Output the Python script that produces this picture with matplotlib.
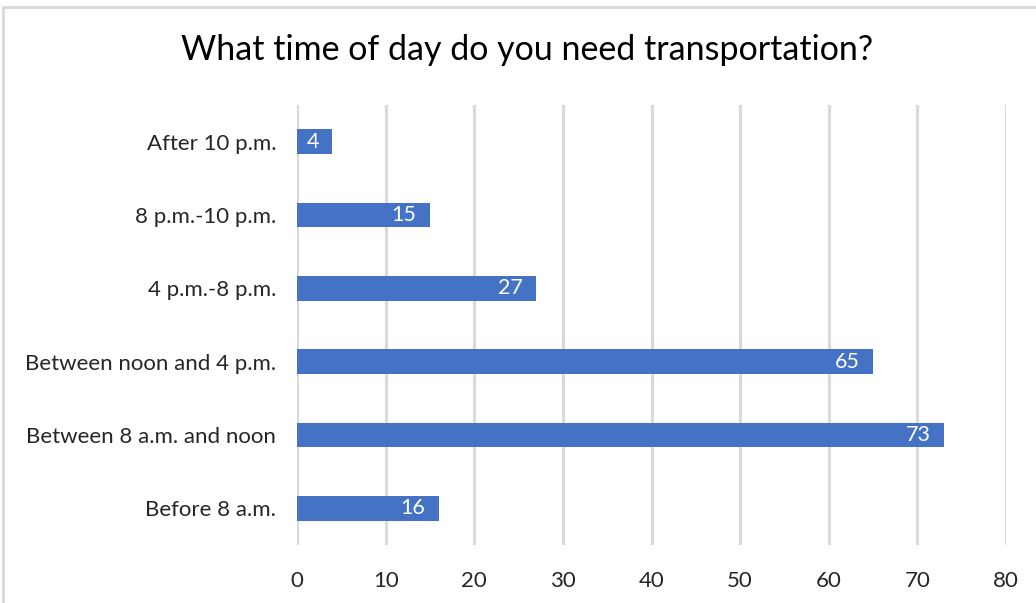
import matplotlib
matplotlib.use("Agg")
import matplotlib.pyplot as plt
from matplotlib.patches import Rectangle

categories = ["Before 8 a.m.", "Between 8 a.m. and noon", "Between noon and 4 p.m.",
              "4 p.m.-8 p.m.", "8 p.m.-10 p.m.", "After 10 p.m."]
values = [16, 73, 65, 27, 15, 4]
xticks = [0, 10, 20, 30, 40, 50, 60, 70, 80]
title = "What time of day do you need transportation?"

plt.rcParams['font.family'] = ['Lato', 'DejaVu Sans']

W, H = 1036, 603
fig = plt.figure(figsize=(W / 100, H / 100), dpi=100)
ax = fig.add_axes([297 / W, 1 - 545 / H, (1006 - 297) / W, (545 - 105) / H])

bar_color = "#4472C4"
bars = ax.barh(range(len(categories)), values, height=0.34, color=bar_color, zorder=3)
for b, v in zip(bars, values):
    ax.text(b.get_width() - 1.5, b.get_y() + b.get_height() / 2, str(v),
            ha="right", va="center", color="white", fontsize=15.5, zorder=4)

ax.set_xlim(0, 80)
ax.set_ylim(-0.5, len(categories) - 0.5)
ax.set_yticks(range(len(categories)))
ax.set_yticklabels(categories, fontsize=16, color="#262626")
ax.set_xticks(xticks)
ax.set_xticklabels([str(t) for t in xticks], fontsize=16, color="#262626")
ax.tick_params(axis="y", length=0, pad=15)
ax.tick_params(axis="x", length=0, pad=19)
ax.xaxis.grid(True, color="#D9D9D9", linewidth=2.2, zorder=0)
ax.set_axisbelow(True)
for s in ax.spines.values():
    s.set_visible(False)

fig.text(527 / W, 1 - 50 / H, title, ha="center", va="center", fontsize=24.5, color="#000000")

fig.patches.append(Rectangle((3 / W, -0.1), 1.2, 1 - 7 / H + 0.1, transform=fig.transFigure,
                             fill=False, edgecolor="#D9D9D9", linewidth=2))

fig.savefig("out.png", dpi=100)
